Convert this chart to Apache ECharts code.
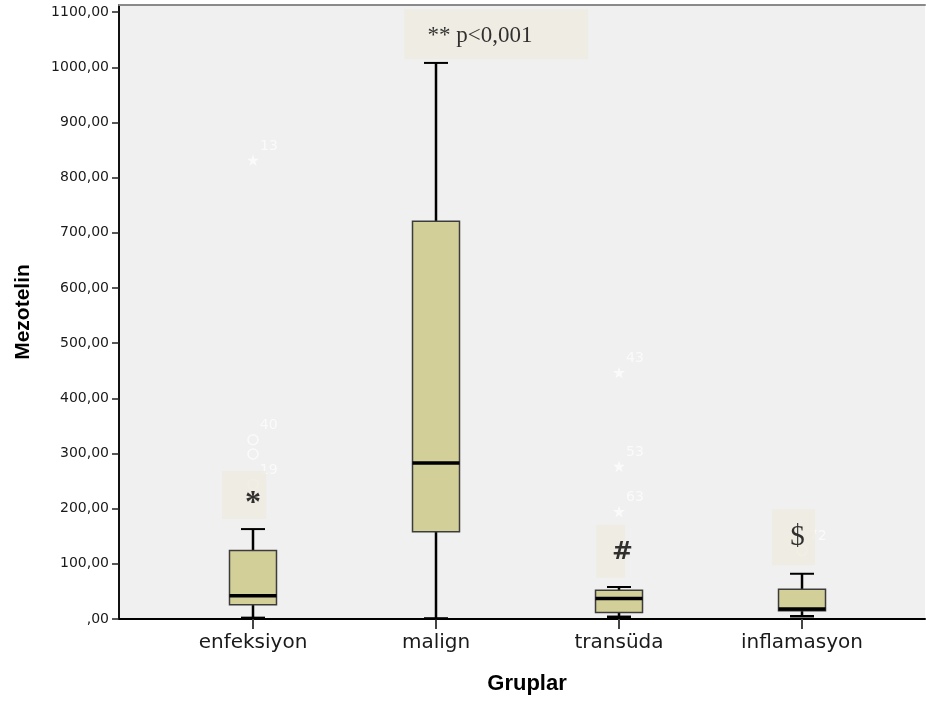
<!DOCTYPE html>
<html>
<head>
<meta charset="utf-8">
<title>Mezotelin - Gruplar</title>
<script src="https://cdn.jsdelivr.net/npm/echarts@6/dist/echarts.min.js"></script>
<style>
  html, body { margin: 0; padding: 0; background: #ffffff; }
  #chart { width: 926px; height: 706px; }
</style>
</head>
<body>
<div id="chart"></div>
<script>
// Groups on the horizontal axis (placed at positions 1..4)
const categories = ['enfeksiyon', 'malign', 'transüda', 'inflamasyon'];

// Five-number summaries per group
const whiskerLow  = [2, 1, 4, 5];
const q1          = [26, 158, 12, 15];
const median      = [42, 283, 37, 18];
const q3          = [124, 721, 52, 54];
const whiskerHigh = [163, 1008, 58, 82];

// Outlying cases: group position, value, case number, marker kind
const outlierGroup = [1, 1, 1, 1, 3, 3, 3, 4];
const outlierValue = [832, 325, 299, 244, 447, 277, 195, 124];
const outlierCase  = ['13', '40', '', '19', '43', '53', '63', '72'];
const outlierKind  = ['star', 'circle', 'circle', 'circle', 'star', 'star', 'star', 'circle'];

// Significance notes, anchored in data space
const noteText = ['*', '** p<0,001', '#', '$'];
const noteX    = [0.951, 2.328, 2.954, 3.954];
const noteY    = [225, 1060, 123, 148];

// Value-axis ticks
const yTicks = [0, 100, 200, 300, 400, 500, 600, 700, 800, 900, 1000, 1100];

const groupPositions = categories.map((_, i) => i + 1);

const boxData = categories.map((_, i) =>
  [i + 1, whiskerLow[i], q1[i], median[i], q3[i], whiskerHigh[i]]);

const STAR = 'path://M50,0 L61,35 L98,35 L68,57 L79,91 L50,70 L21,91 L32,57 L2,35 L39,35 Z';
const outlierData = outlierValue.map((v, i) => ({
  value: [outlierGroup[i], v, outlierCase[i]],
  symbol: outlierKind[i] === 'star' ? STAR : 'circle',
  symbolSize: outlierKind[i] === 'star' ? 12 : 10,
  itemStyle: outlierKind[i] === 'star'
    ? { color: '#fcfcfc', borderWidth: 0 }
    : { color: 'rgba(0,0,0,0)', borderColor: '#fcfcfc', borderWidth: 1.5 }
}));

// Box sizes, text offsets and type for each note
const SERIF = '"Liberation Serif", "Times New Roman", serif';
const noteBoxSize = [[44, 48], [184, 50], [29, 53], [43, 56]];
const noteOffset  = [[9, 9], [-16, 2], [12, 1], [4, 0]];
const noteFont    = [32, 23, 25, 29];
const noteWeight  = ['bold', 'normal', 'bold', 'normal'];
const noteFamily  = [SERIF, SERIF, '"DejaVu Serif", serif', SERIF];
const noteData = noteText.map((t, i) => ({
  value: [noteX[i], noteY[i], t],
  symbolSize: noteBoxSize[i],
  label: {
    show: true, position: 'inside', formatter: t,
    offset: noteOffset[i], fontSize: noteFont[i], fontWeight: noteWeight[i],
    fontFamily: noteFamily[i],
    color: '#000', textBorderWidth: 0, textShadowBlur: 0
  }
}));

const X_MIN = 0.2678, X_MAX = 4.672;
const BOX_W = 47, CAP_W = 24;

const chart = echarts.init(document.getElementById('chart'), null, { renderer: 'canvas' });

chart.setOption({
  backgroundColor: '#ffffff',
  animation: false,
  grid: {
    left: 119, right: 1, top: 5, bottom: 87,
    show: true, backgroundColor: '#f0f0f0', borderWidth: 0
  },
  xAxis: [{
    type: 'value', min: X_MIN, max: X_MAX,
    name: 'Gruplar', nameLocation: 'middle', nameGap: 54,
    nameTextStyle: {
      fontFamily: '"Liberation Sans", Arial, sans-serif', fontWeight: 'bold',
      fontSize: 22, color: '#000', padding: [0, 0, 0, 10]
    },
    axisLine: { onZero: false, lineStyle: { color: '#000', width: 2 } },
    axisTick: { customValues: groupPositions, length: 10, lineStyle: { color: '#444', width: 2 } },
    axisLabel: {
      customValues: groupPositions,
      formatter: v => categories[Math.round(v) - 1],
      margin: 14, fontSize: 20, color: '#1a1a1a',
      fontFamily: '"DejaVu Sans", sans-serif'
    },
    splitLine: { show: false }
  }, {
    type: 'value', min: X_MIN, max: X_MAX, position: 'top',
    axisLine: { onZero: false, lineStyle: { color: '#8a8a8a', width: 2 } },
    axisTick: { show: false }, axisLabel: { show: false }, splitLine: { show: false }
  }],
  yAxis: {
    type: 'value', min: 0, max: 1113,
    name: 'Mezotelin', nameLocation: 'middle', nameGap: 85, nameRotate: 90,
    nameTextStyle: {
      fontFamily: '"Liberation Sans", Arial, sans-serif', fontWeight: 'bold',
      fontSize: 21, color: '#000', padding: [0, 0, 0, 0]
    },
    axisLine: { show: true, onZero: false, lineStyle: { color: '#111', width: 2 } },
    axisTick: { show: true, customValues: yTicks, length: 7, lineStyle: { color: '#222', width: 1.5 } },
    axisLabel: {
      customValues: yTicks,
      formatter: v => (v === 0 ? ',00' : v + ',00'),
      margin: 10, fontSize: 14, color: '#1a1a1a',
      fontFamily: '"DejaVu Sans", sans-serif'
    },
    splitLine: { show: false }
  },
  series: [{
    type: 'custom',
    name: 'box',
    z: 2,
    data: boxData,
    encode: { x: 0, y: [1, 2, 3, 4, 5] },
    renderItem: (params, api) => {
      const x = api.value(0);
      const lo = api.coord([x, api.value(1)]);
      const b1 = api.coord([x, api.value(2)]);
      const md = api.coord([x, api.value(3)]);
      const b3 = api.coord([x, api.value(4)]);
      const hi = api.coord([x, api.value(5)]);
      const cx = lo[0];
      const stem = { stroke: '#000', lineWidth: 2.5 };
      return {
        type: 'group',
        children: [
          { type: 'line', shape: { x1: cx, y1: lo[1], x2: cx, y2: b1[1] }, style: stem },
          { type: 'line', shape: { x1: cx, y1: b3[1], x2: cx, y2: hi[1] }, style: stem },
          { type: 'line', shape: { x1: cx - CAP_W / 2, y1: hi[1], x2: cx + CAP_W / 2, y2: hi[1] },
            style: { stroke: '#000', lineWidth: 2 } },
          { type: 'line', shape: { x1: cx - CAP_W / 2, y1: lo[1], x2: cx + CAP_W / 2, y2: lo[1] },
            style: { stroke: '#000', lineWidth: 2.5 } },
          { type: 'rect', shape: { x: cx - BOX_W / 2, y: b3[1], width: BOX_W, height: b1[1] - b3[1] },
            style: { fill: '#d3cf98', stroke: '#3c3c3c', lineWidth: 1.5 } },
          { type: 'line', shape: { x1: cx - BOX_W / 2, y1: md[1], x2: cx + BOX_W / 2, y2: md[1] },
            style: { stroke: '#000', lineWidth: 3.5 } }
        ]
      };
    }
  }, {
    type: 'scatter',
    name: 'outliers',
    z: 3,
    data: outlierData,
    label: {
      show: true, position: 'right', distance: 1,
      offset: [0, -14],
      formatter: p => p.value[2],
      color: '#fcfcfc', fontSize: 14, textBorderWidth: 0,
      fontFamily: '"DejaVu Sans", sans-serif'
    }
  }, {
    type: 'scatter',
    name: 'notes',
    z: 5,
    symbol: 'rect',
    itemStyle: { color: '#edebe0' },
    data: noteData
  }]
});
</script>
</body>
</html>
